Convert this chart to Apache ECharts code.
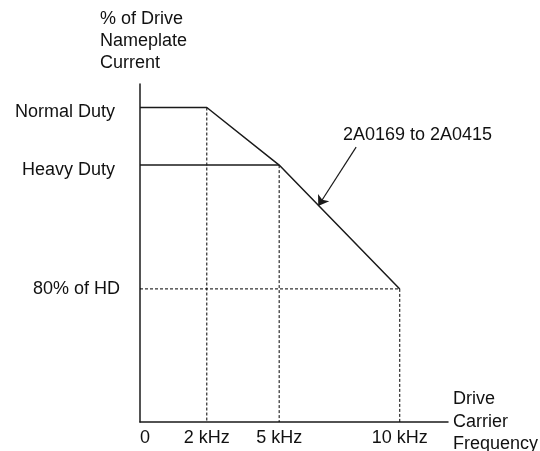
<!DOCTYPE html>
<html>
<head>
<meta charset="utf-8">
<script src="https://cdn.jsdelivr.net/npm/echarts@6/dist/echarts.min.js"></script>
<style>
  html, body { margin: 0; padding: 0; background: #fff; }
  #chart { width: 540px; height: 451px; }
</style>
</head>
<body>
<div id="chart"></div>
<script>
// Frequency axis starts at X_ORIGIN (labelled "0"); the 0–2 kHz span is drawn stretched.
const X_ORIGIN = -0.77;
const X_END = 12;
const Y_MIN = 58.5;
const Y_MAX = 113.1;

// Tick labels
const xTickValues = [X_ORIGIN, 2, 5, 10];
const xTickLabels = ['0', '2 kHz', '5 kHz', '10 kHz'];
const yLevelNames = ['Normal Duty', 'Heavy Duty', '80% of HD'];
const yLevelValues = [109.3, 100, 80];   // % of drive nameplate current

// Derating curve for models 2A0169 to 2A0415
const deratingFreq = [X_ORIGIN, 2, 5, 10];
const deratingCurrent = [109.3, 109.3, 100, 80];

// Heavy Duty level up to 5 kHz
const heavyDutyFreq = [X_ORIGIN, 5];
const heavyDutyCurrent = [100, 100];

// Dashed guide lines
const guideVertFreq = [2, 5, 10];
const guideVertTop = [109.3, 100, 80];
const guideHorizFreq = [X_ORIGIN, 10];
const guideHorizCurrent = [80, 80];

// Annotation arrow (data units): tail near the label, tip on the curve
const arrowTail = [8.19, 102.9];
const arrowTip = [6.62, 93.4];
const curveLabel = '2A0169 to 2A0415';

const FONT = '"Liberation Sans", Arial, Helvetica, sans-serif';
const INK = '#1a1a1a';

const zip = (xs, ys) => xs.map((x, i) => [x, ys[i]]);

const guideStyle = { color: '#000', width: 1, type: [3, 2] };
const guideSeries = guideVertFreq.map((f, i) => ({
  type: 'line',
  data: [[f, guideVertTop[i]], [f, Y_MIN]],
  symbol: 'none',
  silent: true,
  lineStyle: guideStyle,
  z: 1
}));
guideSeries.push({
  type: 'line',
  data: zip(guideHorizFreq, guideHorizCurrent),
  symbol: 'none',
  silent: true,
  lineStyle: guideStyle,
  z: 1
});

const chart = echarts.init(document.getElementById('chart'), null, { renderer: 'canvas' });

chart.setOption({
  animation: false,
  backgroundColor: '#fff',
  textStyle: { fontFamily: FONT },
  grid: { left: 140, top: 84, width: 308, height: 338, containLabel: false, outerBoundsMode: 'none' },
  xAxis: {
    type: 'value',
    min: X_ORIGIN,
    max: X_END,
    name: 'Drive\nCarrier\nFrequency',
    nameLocation: 'end',
    nameGap: 5,
    nameTextStyle: {
      fontFamily: FONT, fontSize: 18, color: '#111',
      align: 'left', verticalAlign: 'middle', lineHeight: 22.5,
      padding: [0, 0, 12, 0]
    },
    axisLine: { show: true, onZero: false, lineStyle: { color: INK, width: 1.5 } },
    axisTick: { show: false },
    splitLine: { show: false },
    axisLabel: {
      customValues: xTickValues,
      margin: 7,
      fontFamily: FONT, fontSize: 18, color: '#111',
      formatter: v => {
        const i = xTickValues.findIndex(t => Math.abs(t - v) < 1e-6);
        const txt = i >= 0 ? xTickLabels[i] : '';
        return i === 0 ? '{o|' + txt + '}' : txt;
      },
      rich: { o: { fontFamily: FONT, fontSize: 18, color: '#111', padding: [0, 0, 0, 10] } }
    }
  },
  yAxis: {
    type: 'value',
    min: Y_MIN,
    max: Y_MAX,
    axisLine: { show: true, onZero: false, lineStyle: { color: INK, width: 1.5 } },
    axisTick: { show: false },
    splitLine: { show: false },
    axisLabel: {
      customValues: yLevelValues,
      margin: 20,
      fontFamily: FONT, fontSize: 18, color: '#111',
      formatter: v => {
        const i = yLevelValues.findIndex(t => Math.abs(t - v) < 1e-6);
        if (i < 0) return '';
        return i < 2 ? '{d|' + yLevelNames[i] + '}' : yLevelNames[i];
      },
      rich: { d: { fontFamily: FONT, fontSize: 18, color: '#111', padding: [10, 5, 0, 0] } }
    }
  },
  graphic: [
    {
      type: 'text',
      left: 100,
      top: 8,
      style: {
        text: '% of Drive\nNameplate\nCurrent',
        font: '18px ' + FONT,
        fill: '#111',
        lineHeight: 22
      }
    },
    {
      type: 'text',
      left: 343,
      top: 126,
      style: { text: curveLabel, font: '18px ' + FONT, fill: '#111' }
    }
  ],
  series: guideSeries.concat([
    {
      type: 'line',
      name: 'Heavy Duty',
      data: zip(heavyDutyFreq, heavyDutyCurrent),
      symbol: 'none',
      lineStyle: { color: INK, width: 1.5 },
      z: 3
    },
    {
      type: 'line',
      name: curveLabel,
      data: zip(deratingFreq, deratingCurrent),
      symbol: 'none',
      lineStyle: { color: INK, width: 1.5 },
      z: 3,
      markLine: {
        silent: true,
        symbol: ['none', 'arrow'],
        symbolSize: 10,
        label: { show: false },
        lineStyle: { color: INK, width: 1.2, type: 'solid' },
        itemStyle: { color: INK },
        data: [[{ coord: arrowTail }, { coord: arrowTip }]]
      }
    }
  ])
});
</script>
</body>
</html>
